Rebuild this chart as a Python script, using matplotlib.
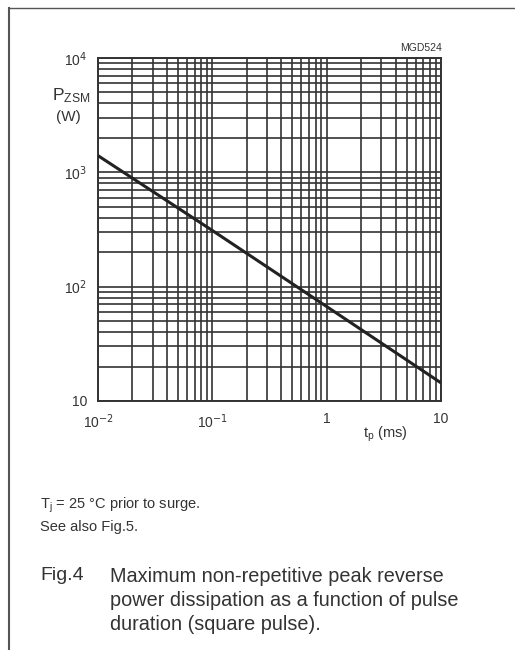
import matplotlib
matplotlib.use('Agg')
import matplotlib.pyplot as plt
from matplotlib.ticker import LogLocator, NullFormatter, FixedLocator, FixedFormatter

# ── data (log-log straight line) ─────────────────────────────────────────────
tp_ms = [0.01, 0.1, 1, 10]
pzsm_w = [1400, 310, 67, 14.4]

x_ticks = [0.01, 0.1, 1, 10]
x_labels = ['10$^{-2}$', '10$^{-1}$', '1', '10']
y_ticks = [10, 100, 1000, 10000]
y_labels = ['10', '10$^{2}$', '10$^{3}$', '10$^{4}$']

GRID = '#333333'
TXT = '#333333'

plt.rcParams['font.family'] = ['Liberation Sans', 'DejaVu Sans']

fig = plt.figure(figsize=(5.15, 6.5), dpi=100)
ax = fig.add_axes([98 / 515, 1 - 401 / 650, 343 / 515, 343 / 650])

ax.set_xscale('log')
ax.set_yscale('log')
ax.set_xlim(0.01, 10)
ax.set_ylim(10, 10000)

ax.plot(tp_ms, pzsm_w, color='#222222', linewidth=2.2, solid_capstyle='butt', zorder=5)

ax.xaxis.set_minor_locator(LogLocator(base=10, subs=range(2, 10)))
ax.yaxis.set_minor_locator(LogLocator(base=10, subs=range(2, 10)))
ax.xaxis.set_minor_formatter(NullFormatter())
ax.yaxis.set_minor_formatter(NullFormatter())
ax.xaxis.set_major_locator(FixedLocator(x_ticks))
ax.xaxis.set_major_formatter(FixedFormatter(x_labels))
ax.yaxis.set_major_locator(FixedLocator(y_ticks))
ax.yaxis.set_major_formatter(FixedFormatter(y_labels))

ax.grid(True, which='both', color=GRID, linewidth=1.2)
ax.tick_params(which='both', length=0, pad=8, labelsize=10, colors=TXT)
for s in ax.spines.values():
    s.set_color(GRID)
    s.set_linewidth(1.4)

# axis labels placed like the datasheet
fig.text(90 / 515, 1 - 96 / 650, '$\\mathregular{P_{ZSM}}$', ha='right', va='center',
         fontsize=12.5, color=TXT)
fig.text(68 / 515, 1 - 117 / 650, '(W)', ha='center', va='center', fontsize=11, color=TXT)
fig.text(385 / 515, 1 - 434 / 650, '$\\mathregular{t_p}$ (ms)', ha='center', va='center',
         fontsize=10.5, color=TXT)
fig.text(442 / 515, 1 - 48 / 650, 'MGD524', ha='right', va='center', fontsize=7.5, color=TXT)

# notes and caption
fig.text(40 / 515, 1 - 505 / 650, '$\\mathregular{T_j}$ = 25 °C prior to surge.', ha='left',
         va='center', fontsize=10.5, color=TXT)
fig.text(40 / 515, 1 - 527 / 650, 'See also Fig.5.', ha='left', va='center',
         fontsize=10.5, color=TXT)
fig.text(40 / 515, 1 - 576 / 650, 'Fig.4', ha='left', va='center', fontsize=14, color=TXT)
caption = ['Maximum non-repetitive peak reverse',
           'power dissipation as a function of pulse',
           'duration (square pulse).']
for i, line in enumerate(caption):
    fig.text(110 / 515, 1 - (576 + 24.5 * i) / 650, line, ha='left', va='center',
             fontsize=14.3, color=TXT)

# scan frame
fig.add_artist(plt.Line2D([9 / 515, 9 / 515], [0, 1 - 8 / 650], color='#555555', linewidth=1.5))
fig.add_artist(plt.Line2D([9 / 515, 1], [1 - 8 / 650, 1 - 8 / 650], color='#555555', linewidth=1.0))

fig.savefig('out.png', dpi=100)
